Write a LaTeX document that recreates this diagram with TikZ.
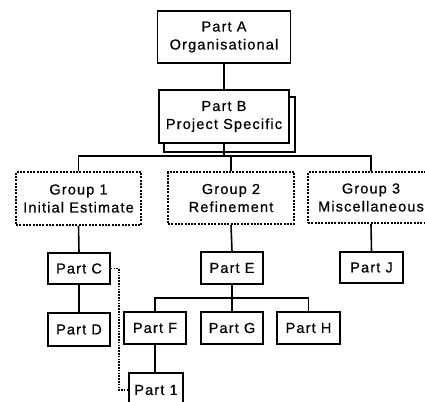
\documentclass[tikz,border=0pt]{standalone}
\usepackage{fontspec}
\setmainfont[LetterSpace=8,FakeBold=0.6]{Liberation Sans}
\begin{document}
\begin{tikzpicture}[x=1pt,y=-1pt,
  box/.style={draw=black,line width=1.6pt,fill=white,align=center,inner sep=0pt,
    font=\fontsize{14.5}{18}\selectfont},
  grp/.style={box,line width=1.5pt,dash pattern=on 2pt off 1.3pt},
  conn/.style={line width=1.6pt},
  dconn/.style={line width=1.4pt,dash pattern=on 1.6pt off 1.2pt}]
\useasboundingbox (0,0) rectangle (425,401);
\begin{scope}
\clip (0,0) rectangle (425,401);
% Part A
\node[box,minimum width=133pt,minimum height=52pt] (A) at (224,37) {Part A\\Organisational};
% Part B with shadow
\draw[line width=1.6pt,fill=white] (164,97) rectangle (295,152);
\node[box,minimum width=130pt,minimum height=53pt] (B) at (224,116.5) {Part B\\Project Specific};
% Groups
\node[grp,minimum width=125pt,minimum height=53pt] (G1) at (78.5,198.5) {Group 1\\Initial Estimate};
\node[grp,minimum width=126pt,minimum height=52pt] (G2) at (231,198) {Group 2\\Refinement};
\node[grp,minimum width=126pt,minimum height=51pt] (G3) at (371,197.5) {Group 3\\Miscellaneous};
% Parts
\node[box,minimum width=62pt,minimum height=31pt] (C) at (79,268.5) {Part C};
\node[box,minimum width=62pt,minimum height=33pt] (D) at (79,329.5) {Part D};
\node[box,minimum width=62pt,minimum height=32pt] (E) at (232,268) {Part E};
\node[box,minimum width=63pt,minimum height=31pt] (J) at (371.5,267.5) {Part J};
\node[box,minimum width=62pt,minimum height=32pt] (F) at (155,328) {Part F};
\node[box,minimum width=62pt,minimum height=32pt] (G) at (232,328) {Part G};
\node[box,minimum width=63pt,minimum height=32pt] (H) at (308.5,328) {Part H};
\node[box,minimum width=54pt,minimum height=34pt] (I) at (156,390) {Part 1};
% connectors
\draw[conn] (A.south) -- (B.north);
\coordinate (bar) at (224,156);
\draw[conn] (B.south) -- (bar);
\draw[conn] (G1.north) |- (bar) -| (G3.north);
\draw[conn] (G2.north) -- (G2.north |- bar);
\draw[conn] (G1.south) -- (C.north);
\draw[conn] (G2.south) -- (E.north);
\draw[conn] (G3.south) -- (J.north);
\draw[conn] (C.south) -- (D.north);
\coordinate (ebar) at (232,298);
\draw[conn] (E.south) -- (ebar);
\draw[conn] (F.north) |- (ebar) -| (H.north);
\draw[conn] (ebar) -- (G.north);
\draw[conn] (F.south) -- (F.south |- I.north);
\draw[dconn] (C.east) -- ++(8,0) |- (I.west);
\end{scope}
\end{tikzpicture}
\end{document}
